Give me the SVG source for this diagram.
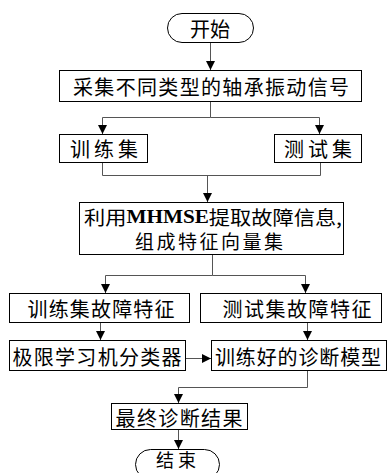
<svg xmlns="http://www.w3.org/2000/svg" width="388" height="473" viewBox="0 0 388 473">
<style>
.box{fill:#fff;stroke:#000;stroke-width:1}
.t{font-family:"Noto Sans CJK SC","Noto Sans",sans-serif;font-size:20px;fill:#000;text-anchor:middle;dominant-baseline:central}
.m{font-size:19px}
.s{font-family:"Liberation Serif",serif;font-weight:bold}
.c{fill:none;stroke:#555;stroke-width:1}
</style>
<defs>
<marker id="ah" viewBox="0 0 10 10" refX="10" refY="5" markerWidth="9" markerHeight="9" markerUnits="userSpaceOnUse" orient="auto">
<path d="M0,0 L10,5 L0,10 Z" fill="#000"/>
</marker>
</defs>
<rect width="388" height="473" fill="#fff"/>
<g id="connectors">
<path class="c" d="M210.5,43 V70" marker-end="url(#ah)"/>
<path class="c" d="M210.5,102 V117.5 H102.5 V134" marker-end="url(#ah)"/>
<path class="c" d="M210.5,117.5 H319.5 V134" marker-end="url(#ah)"/>
<path class="c" d="M102.5,163 V175.5 H320.5 V163"/>
<path class="c" d="M207.5,175.5 V202" marker-end="url(#ah)"/>
<path class="c" d="M212.5,255 V275.5 H105.5 V293" marker-end="url(#ah)"/>
<path class="c" d="M212.5,275.5 H305.5 V293" marker-end="url(#ah)"/>
<path class="c" d="M100.5,323 V340" marker-end="url(#ah)"/>
<path class="c" d="M307.5,323 V340" marker-end="url(#ah)"/>
<path class="c" d="M186,358.5 H211" marker-end="url(#ah)"/>
<path class="c" d="M307.5,371 V387.5 H178.5 V403" marker-end="url(#ah)"/>
<path class="c" d="M178.5,430 V449" marker-end="url(#ah)"/>
</g>
<g id="start">
<rect class="box" x="167.5" y="13.5" width="86" height="29" rx="14.5"/>
<text class="t" x="210" y="28">开始</text>
</g>
<g id="collect">
<rect class="box" x="59.5" y="70.5" width="302" height="31"/>
<text class="t" x="211" y="86" textLength="276" lengthAdjust="spacing">采集不同类型的轴承振动信号</text>
</g>
<g id="train">
<rect class="box" x="59.5" y="134.5" width="88" height="28"/>
<text class="t" x="104" y="148" textLength="68" lengthAdjust="spacing">训练集</text>
</g>
<g id="test">
<rect class="box" x="274.5" y="134.5" width="87" height="28"/>
<text class="t" x="318" y="148" textLength="68" lengthAdjust="spacing">测试集</text>
</g>
<g id="mhmse">
<rect class="box" x="79.5" y="202.5" width="264" height="52"/>
<text class="t m" x="213" y="216" textLength="258" lengthAdjust="spacingAndGlyphs">利用<tspan class="s">MHMSE</tspan>提取故障信息,</text>
<text class="t m" x="209" y="240" textLength="148" lengthAdjust="spacing">组成特征向量集</text>
</g>
<g id="trainfeat">
<rect class="box" x="9.5" y="293.5" width="180" height="29"/>
<text class="t" x="101" y="308" textLength="147" lengthAdjust="spacing">训练集故障特征</text>
</g>
<g id="testfeat">
<rect class="box" x="200.5" y="293.5" width="181" height="29"/>
<text class="t" x="297" y="308" textLength="149" lengthAdjust="spacing">测试集故障特征</text>
</g>
<g id="elm">
<rect class="box" x="9.5" y="340.5" width="176" height="30"/>
<text class="t" x="97" y="356" textLength="169" lengthAdjust="spacing">极限学习机分类器</text>
</g>
<g id="model">
<rect class="box" x="211.5" y="340.5" width="175" height="30"/>
<text class="t" x="298" y="356" textLength="166" lengthAdjust="spacing">训练好的诊断模型</text>
</g>
<g id="result">
<rect class="box" x="111.5" y="403.5" width="136" height="26"/>
<text class="t" x="179" y="417" textLength="127" lengthAdjust="spacing">最终诊断结果</text>
</g>
<g id="end">
<rect class="box" x="135.5" y="449.5" width="84" height="30" rx="15"/>
<text class="t" x="176" y="459" style="font-size:18px" textLength="40" lengthAdjust="spacing">结束</text>
</g>
</svg>
